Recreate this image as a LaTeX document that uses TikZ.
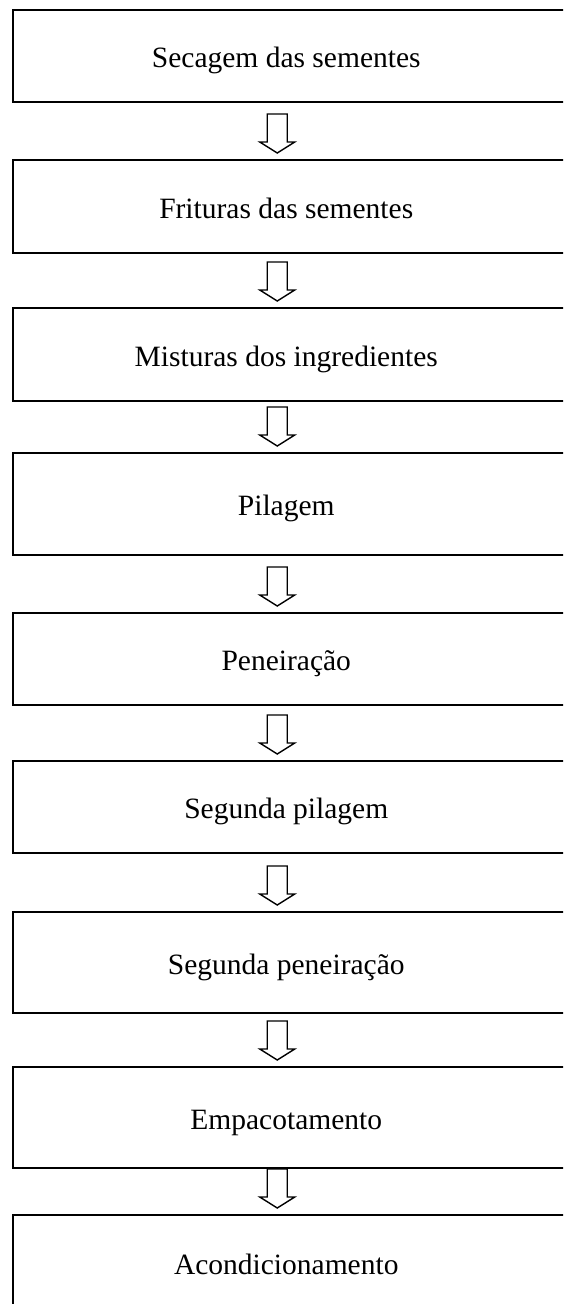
\documentclass[tikz,border=0pt]{standalone}
\usepackage{fontspec}
\setmainfont{Liberation Serif}
\tikzset{
  stagebox/.style={draw=black, line width=2pt, rectangle, minimum width=553.5pt,
    inner sep=0pt, text height=23pt, text depth=0pt,
    execute at end node={\kern6pt},
    font=\fontsize{29.5}{34}\selectfont},
  blockarrow/.style={draw=black, line width=1.4pt, fill=white, line join=miter},
}
\newcommand{\flowarrow}[2]{%
  \draw[blockarrow] ([xshift=-12pt,yshift=6pt]#2.north) -- ++(-17.5,-11) -- ++(7.5,0) -- ++(0,-28)
    -- ++(20,0) -- ++(0,28) -- ++(7.5,0) -- cycle;}
\begin{document}
\begin{tikzpicture}[x=1pt,y=-1pt]
\useasboundingbox (0,0) rectangle (563,1304);
\clip (0,0) rectangle (563,1304);
\node[stagebox, minimum height=92pt]  (b1) at (289.25,56)   {Secagem das sementes};
\node[stagebox, minimum height=93pt]  (b2) at (289.25,206.5) {Frituras das sementes};
\node[stagebox, minimum height=93pt]  (b3) at (289.25,354.5) {Misturas dos ingredientes};
\node[stagebox, minimum height=102pt] (b4) at (289.25,504)   {Pilagem};
\node[stagebox, minimum height=92pt]  (b5) at (289.25,659)   {Peneiração};
\node[stagebox, minimum height=92pt]  (b6) at (289.25,807)   {Segunda pilagem};
\node[stagebox, minimum height=101pt] (b7) at (289.25,962.5) {Segunda peneiração};
\node[stagebox, minimum height=101pt] (b8) at (289.25,1117.5){Empacotamento};
\node[stagebox, minimum height=96pt]  (b9) at (289.25,1263)  {Acondicionamento};
\flowarrow{b1}{b2}
\flowarrow{b2}{b3}
\flowarrow{b3}{b4}
\flowarrow{b4}{b5}
\flowarrow{b5}{b6}
\flowarrow{b6}{b7}
\flowarrow{b7}{b8}
\flowarrow{b8}{b9}
\end{tikzpicture}
\end{document}
